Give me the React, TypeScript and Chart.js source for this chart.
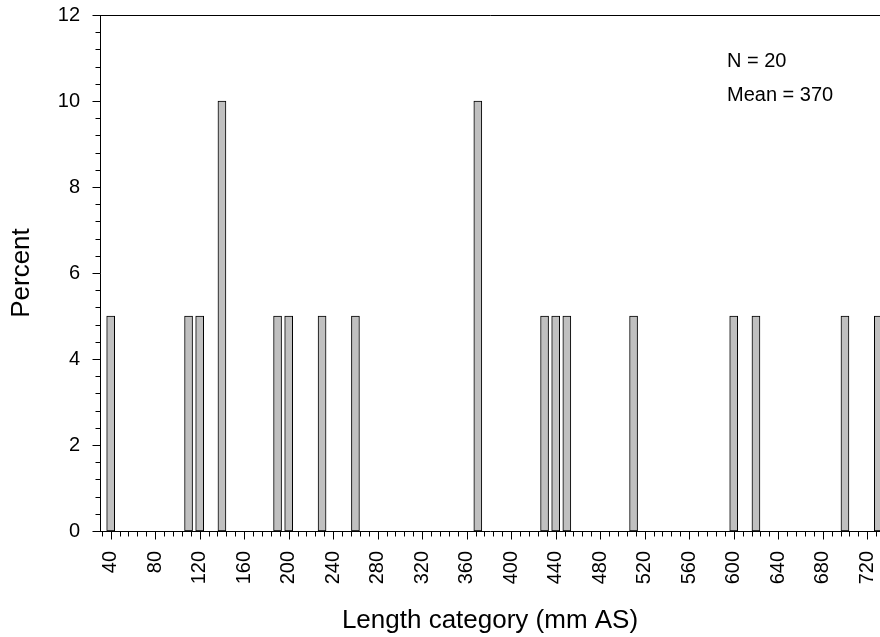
import { useEffect, useRef } from 'react';
import { Chart, registerables } from 'chart.js';

Chart.register(...registerables);

// ---- Data ----
const lengthCategories = [40, 110, 120, 140, 190, 200, 230, 260, 370, 430, 440, 450, 510, 600, 620, 700, 730];
const percentValues = [5, 5, 5, 10, 5, 5, 5, 5, 10, 5, 5, 5, 5, 5, 5, 5, 5];

const xTickLabels = [40, 80, 120, 160, 200, 240, 280, 320, 360, 400, 440, 480, 520, 560, 600, 640, 680, 720];
const yTickLabels = [0, 2, 4, 6, 8, 10, 12];
const xMinorStep = 8;
const yMinorStep = 0.4;
const xRange = [30.4, 731.5];
const yRange = [0, 12];

const annotationLines = ['N = 20', 'Mean = 370'];
const xTitle = 'Length category (mm AS)';
const yTitle = 'Percent';

const FONT = '"Liberation Sans", Arial, Helvetica, sans-serif';

const near = (a: number, b: number) => Math.abs(a - b) < 1e-6;
const isMajorX = (v: number) => xTickLabels.some((t) => near(t, v));
const isMajorY = (v: number) => yTickLabels.some((t) => near(t, v));

const buildTicks = (min: number, max: number, step: number) => {
  const out: { value: number }[] = [];
  const start = Math.ceil(min / step - 1e-9);
  for (let i = start; i * step <= max + 1e-9; i++) {
    out.push({ value: Math.round(i * step * 1000) / 1000 });
  }
  return out;
};

const zeroPadding = (scale: any) => {
  scale.paddingTop = 0;
  scale.paddingBottom = 0;
  scale.paddingLeft = 0;
  scale.paddingRight = 0;
};

const decorPlugin = {
  id: 'decor',
  afterDraw(chart: any) {
    const ctx = chart.ctx as CanvasRenderingContext2D;
    const { left, right, top, bottom } = chart.chartArea;
    const xs = chart.scales.x;
    const ys = chart.scales.y;
    ctx.save();
    ctx.strokeStyle = '#000';
    ctx.lineWidth = 1;
    ctx.beginPath();
    const by = Math.round(bottom) + 0.5;
    xs.ticks.forEach((t: any) => {
      const px = Math.round(xs.getPixelForValue(t.value)) + 0.5;
      const len = isMajorX(t.value) ? 8 : 5;
      ctx.moveTo(px, by);
      ctx.lineTo(px, by + len);
    });
    const lx = Math.round(left) + 0.5;
    ys.ticks.forEach((t: any) => {
      const py = Math.round(ys.getPixelForValue(t.value)) + 0.5;
      const len = isMajorY(t.value) ? 8 : 5;
      ctx.moveTo(lx - len, py);
      ctx.lineTo(lx, py);
    });
    const ty = Math.round(top) + 0.5;
    ctx.moveTo(lx, ty);
    ctx.lineTo(right, ty);
    ctx.stroke();

    ctx.fillStyle = '#000';
    ctx.font = `20px ${FONT}`;
    ctx.textAlign = 'left';
    ctx.textBaseline = 'alphabetic';
    annotationLines.forEach((line, i) => {
      ctx.fillText(line, right - 153, top + 52 + i * 34);
    });
    ctx.restore();
  },
};

export default function App() {
  const canvasRef = useRef<HTMLCanvasElement | null>(null);

  useEffect(() => {
    if (!canvasRef.current) return;
    const chart = new Chart(canvasRef.current, {
      type: 'bar',
      data: {
        datasets: [
          {
            data: lengthCategories.map((x, i) => ({ x, y: percentValues[i] })),
            backgroundColor: '#c0c0c0',
            borderColor: '#000',
            borderWidth: 1,
            borderSkipped: false,
            barThickness: 8,
          } as any,
        ],
      },
      options: {
        animation: false,
        responsive: false,
        devicePixelRatio: 1,
        layout: { padding: { top: 15, right: 0, bottom: 0, left: 0 } },
        plugins: {
          legend: { display: false },
          tooltip: { enabled: false },
        },
        scales: {
          x: {
            type: 'linear',
            position: 'bottom',
            min: xRange[0],
            max: xRange[1],
            offset: false,
            afterBuildTicks: (scale: any) => {
              scale.ticks = buildTicks(scale.min, scale.max, xMinorStep);
            },
            afterFit: (scale: any) => {
              scale.height = 106;
              zeroPadding(scale);
            },
            grid: { display: false, drawTicks: false },
            border: { display: true, color: '#000', width: 1 },
            ticks: {
              autoSkip: false,
              minRotation: 90,
              maxRotation: 90,
              padding: 20,
              color: '#000',
              font: { family: FONT, size: 20 },
              callback: (v: any) => (isMajorX(Number(v)) ? String(Math.round(Number(v))) : ''),
            },
            title: {
              display: true,
              text: xTitle,
              color: '#000',
              font: { family: FONT, size: 26 },
              padding: { top: 0, bottom: 1 },
            },
          },
          y: {
            type: 'linear',
            min: yRange[0],
            max: yRange[1],
            afterBuildTicks: (scale: any) => {
              scale.ticks = buildTicks(scale.min, scale.max, yMinorStep);
            },
            afterFit: (scale: any) => {
              scale.width = 100;
              zeroPadding(scale);
            },
            grid: { display: false, drawTicks: false },
            border: { display: true, color: '#000', width: 1 },
            ticks: {
              autoSkip: false,
              padding: 20,
              color: '#000',
              font: { family: FONT, size: 20 },
              callback: (v: any) => (isMajorY(Number(v)) ? String(Math.round(Number(v))) : ''),
            },
            title: {
              display: true,
              text: yTitle,
              color: '#000',
              font: { family: FONT, size: 26 },
              padding: { top: 6, bottom: 0 },
            },
          },
        },
      },
      plugins: [decorPlugin],
    });
    return () => chart.destroy();
  }, []);

  return (
    <div style={{ position: 'absolute', left: 0, top: 0, width: 880, height: 637, background: '#fff' }}>
      <canvas ref={canvasRef} width={880} height={637} style={{ display: 'block' }} />
    </div>
  );
}
